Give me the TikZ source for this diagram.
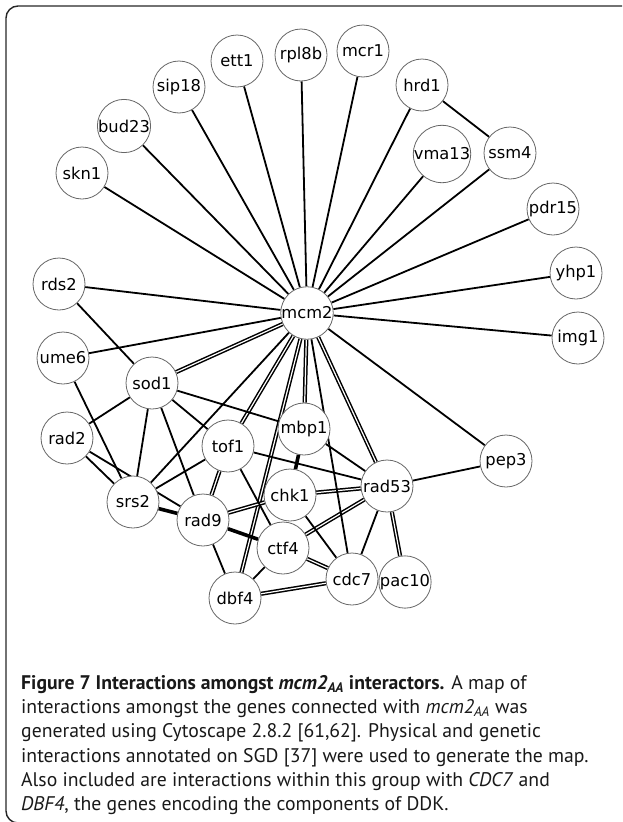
\documentclass[tikz,border=0pt]{standalone}
\usepackage{fontspec}
\setmainfont{PT Sans}
\newfontfamily\genefont{DejaVu Sans}
\pgfdeclarelayer{background}
\pgfsetlayers{background,main}

\begin{document}
\begin{tikzpicture}[
        x=1pt, y=-1pt,
        gene/.style={circle, draw=black!60, line width=0.8pt, fill=white, minimum size=52pt, inner sep=0pt, font=\genefont\fontsize{16.3pt}{17pt}\selectfont},
        link/.style={line width=1.8pt},
        heavy/.style={line width=3.6pt},
        twin/.style={line width=1.5pt, double=white, double distance=1.2pt}
    ]
    \useasboundingbox (0,0) rectangle (622,822);
    \begin{scope}
    \clip (0,0) rectangle (622,822);
    \draw[line width=1.4pt, black!85, rounded corners=12pt] (660,6) -- (6,6) -- (6,823) -- (660,823);
    \end{scope}

    % hub and outer ring
    \node[gene] (mcm2) at (307,313) {mcm2};
    \node[gene] (skn1) at (82,173) {skn1};
    \node[gene] (bud23) at (124,126) {bud23};
    \node[gene] (sip18) at (179,87) {sip18};
    \node[gene] (ett1) at (237,61) {ett1};
    \node[gene] (rpl8b) at (301,55) {rpl8b};
    \node[gene] (mcr1) at (363,51) {mcr1};
    \node[gene] (hrd1) at (422,85) {hrd1};
    \node[gene] (vma13) at (442,154) {vma13};
    \node[gene] (ssm4) at (510,153) {ssm4};
    \node[gene] (pdr15) at (553,209) {pdr15};
    \node[gene] (yhp1) at (576,273) {yhp1};
    \node[gene] (img1) at (578,338) {img1};
    \node[gene] (rds2) at (59,284) {rds2};
    \node[gene] (ume6) at (63,358) {ume6};
    \node[gene] (pep3) at (506,461) {pep3};

    % dense cluster
    \node[gene] (sod1) at (152,383) {sod1};
    \node[gene] (rad2) at (67,438) {rad2};
    \node[gene] (tof1) at (228,446) {tof1};
    \node[gene] (mbp1) at (304,429) {mbp1};
    \node[gene] (rad53) at (387,486) {rad53};
    \node[gene] (srs2) at (133,502) {srs2};
    \node[gene] (chk1) at (290,495) {chk1};
    \node[gene] (rad9) at (203,520) {rad9};
    \node[gene] (ctf4) at (283,548) {ctf4};
    \node[gene] (cdc7) at (352,579) {cdc7};
    \node[gene] (pac10) at (405,582) {pac10};
    \node[gene] (dbf4) at (235,598) {dbf4};

    \begin{pgfonlayer}{background}
    % double interactions
    \draw[twin] (mcm2) -- (sod1);
    \draw[twin] (mcm2) -- (tof1);
    \draw[twin] (mcm2) -- (mbp1);
    \draw[twin] (mcm2) -- (rad53);
    \draw[twin] (mcm2) -- (dbf4);
    \draw[twin] (tof1) -- (rad9);
    \draw[twin] (rad9) -- (chk1);
    \draw[twin] (chk1) -- (rad53);
    \draw[twin] (ctf4) -- (rad53);
    \draw[twin] (ctf4) -- (cdc7);
    \draw[twin] (dbf4) -- (cdc7);
    \draw[twin] (rad53) -- (pac10);

    % spokes of mcm2
    \draw[link] (mcm2) -- (skn1);
    \draw[link] (mcm2) -- (bud23);
    \draw[link] (mcm2) -- (sip18);
    \draw[link] (mcm2) -- (ett1);
    \draw[link] (mcm2) -- (rpl8b);
    \draw[link] (mcm2) -- (mcr1);
    \draw[link] (mcm2) -- (hrd1);
    \draw[link] (mcm2) -- (vma13);
    \draw[link] (mcm2) -- (ssm4);
    \draw[link] (mcm2) -- (pdr15);
    \draw[link] (mcm2) -- (yhp1);
    \draw[link] (mcm2) -- (img1);
    \draw[link] (mcm2) -- (pep3);
    \draw[link] (mcm2) -- (rds2);
    \draw[link] (mcm2) -- (ume6);
    \draw[link] (mcm2) -- (srs2);
    \draw[link] (mcm2) -- (cdc7);

    % other interactions
    \draw[link] (hrd1) -- (ssm4);
    \draw[link] (rds2) -- (sod1);
    \draw[link] (ume6) -- (srs2);
    \draw[link] (sod1) -- (rad2);
    \draw[link] (sod1) -- (srs2);
    \draw[link] (sod1) -- (rad9);
    \draw[link] (sod1) -- (tof1);
    \draw[link] (sod1) -- (mbp1);
    \draw[link] (rad2) -- (srs2);
    \draw[link] (rad2) -- (rad9);
    \draw[link] (srs2) -- (tof1);
    \draw[heavy] (srs2) -- (rad9);
    \draw[link] (tof1) -- (rad53);
    \draw[link] (tof1) -- (ctf4);
    \draw[heavy] (rad9) -- (ctf4);
    \draw[link] (rad9) -- (dbf4);
    \draw[heavy] (mbp1) -- (chk1);
    \draw[link] (mbp1) -- (rad53);
    \draw[link] (chk1) -- (cdc7);
    \draw[link] (ctf4) -- (dbf4);
    \draw[link] (rad53) -- (cdc7);
    \draw[link] (rad53) -- (pep3);
    \end{pgfonlayer}

    % caption
    \node[anchor=north west, inner sep=0pt, align=left, text=black!90,
          font=\fontsize{19.7pt}{24.3pt}\selectfont] (caption) at (21,675)
    {\textbf{Figure 7 Interactions amongst \textit{mcm2\textsubscript{AA}} interactors.} A map of\\
     interactions amongst the genes connected with \textit{mcm2\textsubscript{AA}} was\\
     generated using Cytoscape 2.8.2 [61,62]. Physical and genetic\\
     interactions annotated on SGD [37] were used to generate the map.\\
     Also included are interactions within this group with \textit{CDC7} and\\
     \textit{DBF4}, the genes encoding the components of DDK.};
\end{tikzpicture}
\end{document}
